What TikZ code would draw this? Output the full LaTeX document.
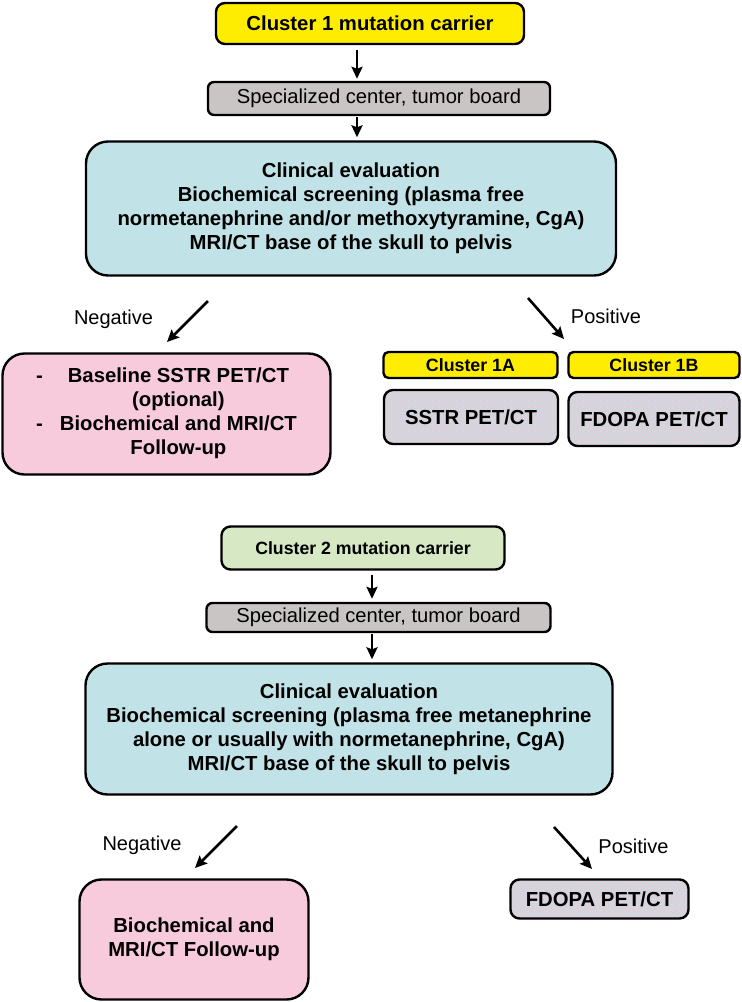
\documentclass[tikz,border=0pt]{standalone}
\usepackage{fontspec}
\setmainfont{Liberation Sans}
\usepackage{tikz}
\usetikzlibrary{arrows.meta,patterns}
\definecolor{clyellow}{RGB}{255,237,0}
\definecolor{boardgray}{RGB}{201,197,197}
\definecolor{evalblue}{RGB}{193,227,231}
\definecolor{fupink}{RGB}{247,202,220}
\definecolor{clgreen}{RGB}{214,232,196}
\definecolor{petbase}{RGB}{203,216,222}
\definecolor{petcheck}{RGB}{230,206,218}
% small checks for the imaging boxes
\pgfdeclarepatternformonly{finechecks}{\pgfpointorigin}{\pgfqpoint{6pt}{6pt}}{\pgfqpoint{6pt}{6pt}}{%
	\pgfpathrectangle{\pgfpointorigin}{\pgfqpoint{3pt}{3pt}}%
	\pgfpathrectangle{\pgfqpoint{3pt}{3pt}}{\pgfqpoint{3pt}{3pt}}%
	\pgfusepath{fill}}
\tikzset{
	%Define styles for boxes
	stage/.style={
		rectangle,
		draw=black, line width=2.4pt,
		inner sep=0pt,
		align=center,
		font=\bfseries\fontsize{20.3}{24}\selectfont},
	carrier/.style={stage, fill=clyellow, rounded corners=9pt},
	board/.style={stage, fill=boardgray, rounded corners=6pt,
		font=\mdseries\fontsize{20.2}{24}\selectfont},
	evaluation/.style={stage, fill=evalblue, rounded corners=22pt},
	followup/.style={stage, fill=fupink, rounded corners=22pt},
	subcluster/.style={stage, fill=clyellow, rounded corners=5pt,
		font=\bfseries\fontsize{17.8}{20}\selectfont},
	imaging/.style={stage, rounded corners=9pt, preaction={fill=petbase},
		pattern=finechecks, pattern color=petcheck},
	result/.style={font=\fontsize{20}{24}\selectfont, anchor=base},
	flow/.style={->, line width=2.6pt}
}

\begin{document}
\begin{tikzpicture}[x=1pt, y=-1pt, >={Stealth[length=12pt, width=11pt, inset=2pt]}]
	\useasboundingbox (0,0) rectangle (742,1002);
	\coordinate (upx) at (357,0);
	\coordinate (lowx) at (372,0);

	% Cluster 1
	\node[carrier, minimum width=308pt, minimum height=41pt] (cl1) at (370,23.5) {Cluster 1 mutation carrier};
	\node[board, minimum width=342pt, minimum height=33pt] (spec1) at (379,98.5) {Specialized center, tumor board};
	\node[evaluation, minimum width=530pt, minimum height=134pt] (eval1) at (351,208.5)
		{Clinical evaluation\\Biochemical screening (plasma free\\normetanephrine and/or methoxytyramine, CgA)\\MRI/CT base of the skull to pelvis};
	\node[followup, minimum width=328pt, minimum height=121pt] (neg1) at (166.5,414)
		{\begin{tabular}{@{}c@{\hspace{17pt}}c@{}}
			- & Baseline SSTR PET/CT\\
			& (optional)\\
			- & Biochemical and MRI/CT\\
			& Follow-up
		\end{tabular}};
	\node[subcluster, minimum width=174pt, minimum height=26pt] (c1a) at (470.5,365) {Cluster 1A};
	\node[subcluster, minimum width=171pt, minimum height=26pt] (c1b) at (654,365) {Cluster 1B};
	\node[imaging, minimum width=174pt, minimum height=54pt] (sstr) at (471,417) {SSTR PET/CT};
	\node[imaging, minimum width=171pt, minimum height=54pt] (fdopa1) at (654,419) {FDOPA PET/CT};

	\draw[flow, shorten <=5pt, shorten >=2pt] (cl1.south -| upx) -- (spec1.north -| upx);
	\draw[flow, shorten <=1pt, shorten >=3pt] (spec1.south -| upx) -- (eval1.north -| upx);

	\coordinate (n1from) at (208,301);
	\coordinate (n1to) at (167,342);
	\coordinate (p1from) at (528,298);
	\coordinate (p1to) at (564,339);
	\draw[flow] (n1from) -- (n1to);
	\draw[flow] (p1from) -- (p1to);
	\node[result] (neg1lbl) at (113.5,324) {Negative};
	\node[result] (pos1lbl) at (606,323) {Positive};

	% Cluster 2
	\node[stage, fill=clgreen, rounded corners=9pt, minimum width=283pt, minimum height=43pt,
		font=\bfseries\fontsize{17.7}{20}\selectfont] (cl2) at (363,548) {Cluster 2 mutation carrier};
	\node[board, minimum width=344pt, minimum height=29pt] (spec2) at (378.5,617.5) {Specialized center, tumor board};
	\node[evaluation, minimum width=527pt, minimum height=131pt] (eval2) at (349,729)
		{Clinical evaluation\\Biochemical screening (plasma free metanephrine\\alone or usually with normetanephrine, CgA)\\MRI/CT base of the skull to pelvis};
	\node[followup, minimum width=229pt, minimum height=120pt] (neg2) at (194,939.5)
		{Biochemical and\\MRI/CT Follow-up};
	\node[imaging, minimum width=178pt, minimum height=39pt] (fdopa2) at (599.5,899) {FDOPA PET/CT};

	\draw[flow, shorten <=4pt, shorten >=3pt] (cl2.south -| lowx) -- (spec2.north -| lowx);
	\draw[flow, shorten <=1pt, shorten >=3pt] (spec2.south -| lowx) -- (eval2.north -| lowx);

	\coordinate (n2from) at (237,826);
	\coordinate (n2to) at (195,868);
	\coordinate (p2from) at (554,827);
	\coordinate (p2to) at (592,869);
	\draw[flow] (n2from) -- (n2to);
	\draw[flow] (p2from) -- (p2to);
	\node[result] (neg2lbl) at (142,850) {Negative};
	\node[result] (pos2lbl) at (633.5,853) {Positive};
\end{tikzpicture}
\end{document}
